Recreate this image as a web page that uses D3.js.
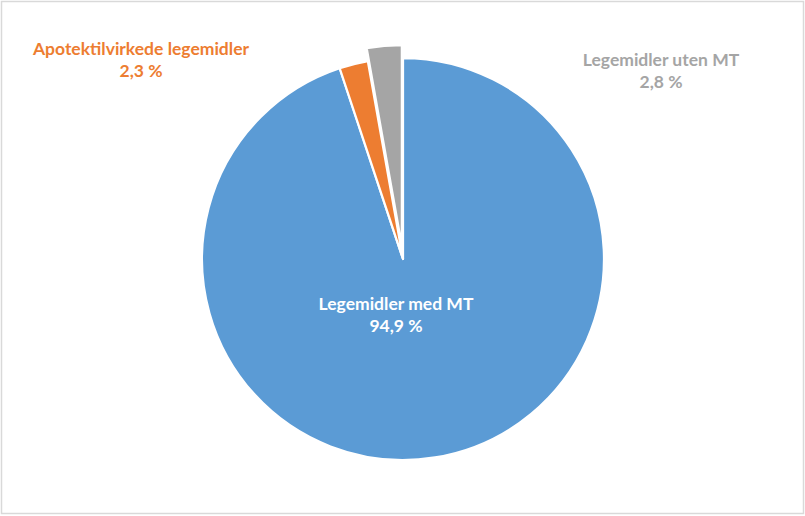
<!DOCTYPE html>
<html><head><meta charset="utf-8">
<script src="https://cdn.jsdelivr.net/npm/d3@7"></script>
<style>html,body{margin:0;padding:0;background:#fff;}svg{display:block;}</style>
</head><body>
<svg id="chart" width="805" height="516"></svg>
<script>
const categories = ["Legemidler med MT", "Apotektilvirkede legemidler", "Legemidler uten MT"];
const values = [94.9, 2.3, 2.8];
const valueLabels = ["94,9 %", "2,3 %", "2,8 %"];
const colors = ["#5B9BD5", "#ED7D31", "#A5A5A5"];
const explode = [0, 0, 13];
const labelPos = [[396, 310], [141, 55], [661, 66]];
const labelColors = ["#ffffff", "#ED7D31", "#A5A5A5"];

const svg = d3.select("#chart");
svg.append("rect").attr("x", 1.5).attr("y", 1.5).attr("width", 802).attr("height", 512)
  .attr("fill", "#fff").attr("stroke", "#d9d9d9").attr("stroke-width", 1.5);

const cx = 403, cy = 259, r = 201;
const pie = d3.pie().sort(null).value(d => d)(values);
const arc = d3.arc().innerRadius(0).outerRadius(r);
const g = svg.append("g").attr("transform", `translate(${cx},${cy})`);
g.selectAll("path").data(pie).join("path")
  .attr("d", arc)
  .attr("fill", (d, i) => colors[i])
  .attr("stroke", "#fff").attr("stroke-width", 2.25).attr("stroke-linejoin", "round")
  .attr("transform", (d, i) => {
    const a = (d.startAngle + d.endAngle) / 2;
    return `translate(${Math.sin(a) * explode[i]},${-Math.cos(a) * explode[i]})`;
  });

categories.forEach((c, i) => {
  const t = svg.append("text").attr("text-anchor", "middle")
    .attr("font-family", "Lato, 'Open Sans', sans-serif").attr("font-weight", "bold")
    .attr("font-size", 17.5).attr("fill", labelColors[i]);
  t.append("tspan").attr("x", labelPos[i][0]).attr("y", labelPos[i][1]).text(c);
  t.append("tspan").attr("x", labelPos[i][0]).attr("y", labelPos[i][1] + 22).text(valueLabels[i]);
});
</script>
</body></html>
